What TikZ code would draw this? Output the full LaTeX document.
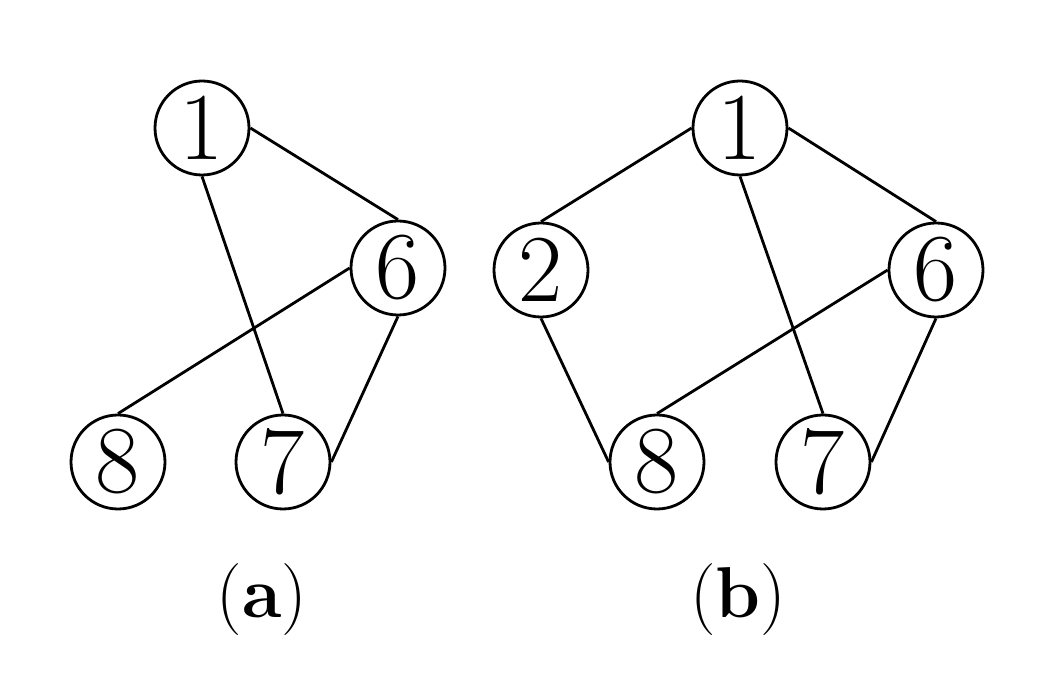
\documentclass[tikz,border=0pt]{standalone}
\usepackage{amsmath}
\usepackage{tikz}

\begin{document}
\begin{tikzpicture} [x = 0.5pt, y = -0.5pt, line width = 1.4pt,
  vertex/.style = {draw, circle, inner sep = 0pt, minimum size = 47pt, font = \fontsize{48}{50}\selectfont},
  caption/.style = {font = \fontsize{36}{40}\selectfont}]
\useasboundingbox (0,0) rectangle (1045,688);
% (a)
\node[vertex](a1) at (202,128){1};
\node[vertex](a6) at (398,268){6};
\node[vertex](a8) at (118,462){8};
\node[vertex](a7) at (283,462){7};
\draw (a1.east) -- (a6.north);
\draw (a1.south) -- (a7.north);
\draw (a6.west) -- (a8.north);
\draw (a6.south) -- (a7.east);
% (b)
\node[vertex](b1) at (740,128){1};
\node[vertex](b2) at (541,270){2};
\node[vertex](b6) at (936,270){6};
\node[vertex](b8) at (657,462){8};
\node[vertex](b7) at (823,462){7};
\draw (b1.west) -- (b2.north);
\draw (b1.east) -- (b6.north);
\draw (b1.south) -- (b7.north);
\draw (b2.south) -- (b8.west);
\draw (b6.west) -- (b8.north);
\draw (b6.south) -- (b7.east);
% captions
\node[caption](ca) at (262,600){(\textbf{a})};
\node[caption](cb) at (738,600){(\textbf{b})};
\end{tikzpicture}
\end{document}
